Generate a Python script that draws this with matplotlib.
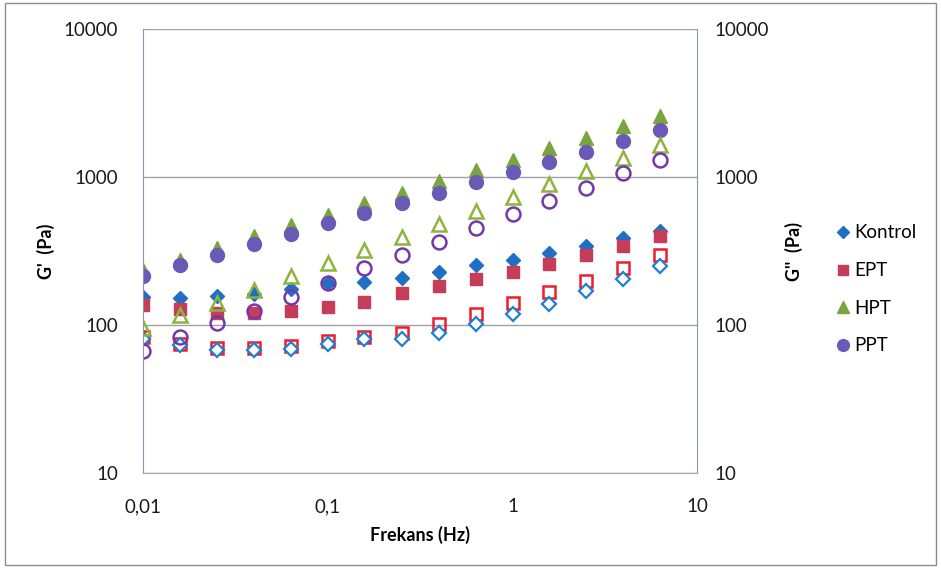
import matplotlib.pyplot as plt
from matplotlib.patches import Rectangle
from matplotlib.ticker import FixedLocator, NullLocator

plt.rcParams["font.family"] = ["Lato", "DejaVu Sans"]

# frequency sweep (Hz)
freq = [0.01, 0.0158, 0.0251, 0.0398, 0.0631, 0.1, 0.158, 0.251, 0.398, 0.631,
        1.0, 1.58, 2.51, 3.98, 6.31]

# storage modulus G' (Pa)
kontrol_g1 = [155, 152, 157, 162, 175, 192, 195, 208, 228, 254, 275, 306, 342, 387, 431]
ept_g1 = [136, 128, 121, 121, 124, 132, 143, 164, 183, 205, 228, 258, 297, 342, 399]
hpt_g1 = [235, 275, 331, 399, 474, 554, 667, 780, 940, 1114, 1303, 1570, 1836, 2211, 2585]
ppt_g1 = [214, 254, 297, 352, 412, 489, 571, 667, 780, 925, 1081, 1263, 1475, 1751, 2078]

# loss modulus G'' (Pa)
kontrol_g2 = [80, 73, 68, 68, 69, 75, 80, 81, 89, 102, 118, 139, 171, 206, 250]
ept_g2 = [83, 74, 70, 70, 72, 78, 83, 88, 102, 119, 141, 167, 198, 243, 297]
hpt_g2 = [96, 117, 141, 172, 214, 262, 321, 393, 481, 589, 733, 897, 1099, 1344, 1645]
ppt_g2 = [67, 83, 103, 124, 155, 192, 243, 297, 364, 452, 562, 689, 843, 1064, 1303]

names = ["Kontrol", "EPT", "HPT", "PPT"]

fig = plt.figure(figsize=(9.41, 5.72), dpi=100)
ax = fig.add_axes([0.152, 0.173, 0.589, 0.776])
fig.patches.append(Rectangle((0.005, 0.012), 0.99, 0.982, transform=fig.transFigure,
                             fill=False, edgecolor="#8c8c8c", linewidth=1.0))

# G' series, filled markers
ax.plot(freq, kontrol_g1, "D", color="#1f6fc4", markersize=7.5, label=names[0])
ax.plot(freq, ept_g1, "s", color="#c63d5a", markersize=9, label=names[1])
ax.plot(freq, hpt_g1, "^", color="#7aa53c", markersize=10, label=names[2])
ax.plot(freq, ppt_g1, "o", color="#6a5ab8", markersize=10, label=names[3])

# G'' series, open markers
ax.plot(freq, ept_g2, "s", markerfacecolor="none", markeredgecolor="#ee1c2c",
        markeredgewidth=1.8, markersize=9)
ax.plot(freq, kontrol_g2, "D", markerfacecolor="white", markeredgecolor="#1f7fd0",
        markeredgewidth=1.6, markersize=7)
ax.plot(freq, hpt_g2, "^", markerfacecolor="none", markeredgecolor="#8db43c",
        markeredgewidth=1.8, markersize=10)
ax.plot(freq, ppt_g2, "o", markerfacecolor="none", markeredgecolor="#7538a8",
        markeredgewidth=1.8, markersize=10)

ax.set_xscale("log")
ax.set_yscale("log")
ax.set_xlim(0.01, 10)
ax.set_ylim(10, 10000)

yt = [10, 100, 1000, 10000]
ax.yaxis.set_major_locator(FixedLocator(yt))
ax.yaxis.set_minor_locator(NullLocator())
ax.set_yticklabels([str(v) for v in yt])
ax.xaxis.set_major_locator(FixedLocator([0.01, 0.1, 1, 10]))
ax.xaxis.set_minor_locator(NullLocator())
ax.set_xticklabels(["0,01", "0,1", "1", "10"])
ax.tick_params(length=0, labelsize=13.5, colors="#1a1a1a")
ax.tick_params(axis="x", pad=18)
ax.tick_params(axis="y", pad=18)
ax.grid(axis="y", color="#a0a0a8", linewidth=1.0)
ax.set_axisbelow(True)

for side in ["left", "right"]:
    ax.spines[side].set_color("#8e92b4")
ax.spines["bottom"].set_color("#a8a8a8")
ax.spines["top"].set_visible(False)

ax2 = ax.twinx()
ax2.set_yscale("log")
ax2.set_ylim(10, 10000)
ax2.yaxis.set_major_locator(FixedLocator(yt))
ax2.yaxis.set_minor_locator(NullLocator())
ax2.set_yticklabels([str(v) for v in yt])
ax2.tick_params(length=0, labelsize=13.5, colors="#1a1a1a", pad=12)
for s in ax2.spines.values():
    s.set_visible(False)

ax.set_xlabel("Frekans (Hz)", fontsize=13, fontweight="bold", labelpad=8)
ax.set_ylabel("G'  (Pa)", fontsize=13, fontweight="bold", labelpad=6)
ax2.set_ylabel("G''  (Pa)", fontsize=13, fontweight="bold", labelpad=12)

fig.legend(loc="center left", bbox_to_anchor=(0.876, 0.494), frameon=False,
           fontsize=13.5, handletextpad=0.1, labelspacing=1.1, markerscale=0.85,
           handlelength=1.0, borderpad=0)

fig.savefig("out.png", dpi=100)
